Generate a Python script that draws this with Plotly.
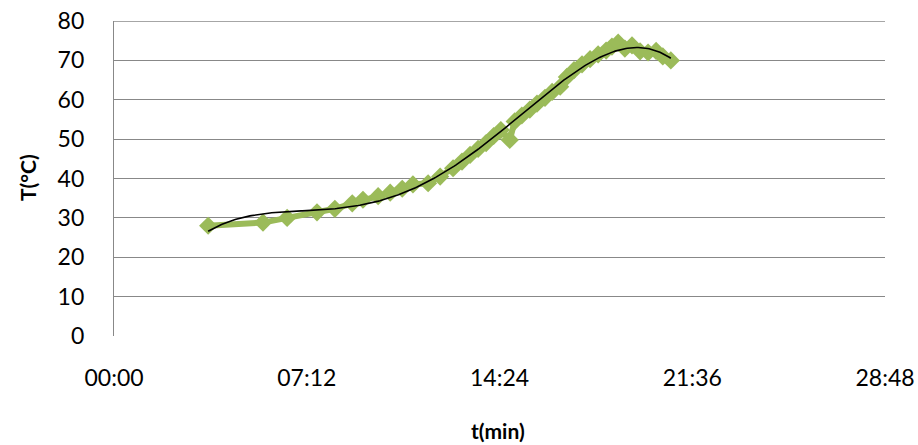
import numpy as np
import plotly.graph_objects as go

# time in seconds since start
t_sec = [211, 334, 388, 455, 495, 534, 558, 592, 619, 646, 670, 704, 731, 760,
         780, 798, 816, 834, 851, 867, 887, 898, 914, 932, 948, 966, 982, 1000,
         1015, 1031, 1049, 1067, 1085, 1103, 1116, 1130, 1145, 1161, 1179, 1197,
         1215, 1230, 1248]
temp_c = [28.0, 28.8, 30.0, 31.4, 32.3, 33.7, 34.6, 35.5, 36.4, 37.4, 38.5, 38.8, 40.5, 42.6,
          44.3, 46.0, 47.5, 49.0, 50.8, 52.3, 49.8, 54.5, 56.0, 57.5, 59.0, 60.5, 62.0, 63.3,
          65.8, 67.5, 69.0, 70.3, 71.5, 72.5, 73.5, 74.5, 73.0, 73.8, 72.3, 72.0,
          72.4, 71.0, 70.0]

x_tickvals = [0, 432, 864, 1296, 1728]
x_ticktext = ["00:00", "07:12", "14:24", "21:36", "28:48"]
y_tickvals = [0, 10, 20, 30, 40, 50, 60, 70, 80]
x_title = "t(min)"
y_title = "T(°C)"

# polynomial trendline (computed from the data)
poly = np.polynomial.Polynomial.fit(t_sec, temp_c, 4)
t_fit = np.linspace(min(t_sec), max(t_sec), 300)
T_fit = poly(t_fit)

FONT = "Lato"
GRID = "#888888"
W, H = 918, 445
L, R, T, B = 114, 33, 21, 109
PW, PH = W - L - R, H - T - B

fig = go.Figure()
fig.add_trace(go.Scatter(
    x=t_sec, y=temp_c, mode="lines+markers",
    line=dict(color="#9BBB59", width=6),
    marker=dict(symbol="diamond", size=14, color="#9BBB59"),
    showlegend=False, hoverinfo="x+y"))
fig.add_trace(go.Scatter(
    x=t_fit, y=T_fit, mode="lines",
    line=dict(color="#000000", width=1.6),
    showlegend=False, hoverinfo="skip"))

fig.update_layout(
    width=W, height=H,
    margin=dict(l=L, r=R, t=T, b=B),
    paper_bgcolor="white", plot_bgcolor="white",
    font=dict(family=FONT, size=23, color="#000000"),
    xaxis=dict(range=[0, 1728], tickvals=x_tickvals, ticktext=x_ticktext,
               showgrid=False, zeroline=False, showline=False,
               ticks="", ticklabelstandoff=26, automargin=False,
               ticklabeloverflow="allow"),
    yaxis=dict(range=[0, 80], tickvals=y_tickvals,
               showgrid=True, gridcolor=GRID, gridwidth=1.3,
               zeroline=False, showline=True, linecolor=GRID, linewidth=1.3,
               ticks="", ticklabelstandoff=24, automargin=False,
               ticklabeloverflow="allow"),
    shapes=[dict(type="line", xref="paper", yref="y", x0=0, x1=1,
                 y0=y_tickvals[-1], y1=y_tickvals[-1],
                 line=dict(color=GRID, width=1.3), layer="below")],
    annotations=[
        dict(text="<b>" + x_title + "</b>", xref="paper", yref="paper",
             x=(498 - L) / PW, y=-(430 - (H - B)) / PH,
             xanchor="center", yanchor="middle", showarrow=False,
             font=dict(size=21, family=FONT)),
        dict(text="<b>" + y_title + "</b>", xref="paper", yref="paper",
             x=-(L - 27) / PW, y=((H - B) - 178) / PH,
             xanchor="center", yanchor="middle", showarrow=False, textangle=-90,
             font=dict(size=21, family=FONT)),
    ],
)
fig.write_html("out.html", config={"displayModeBar": False},
               post_script="document.body.style.margin='0px';document.body.style.overflow='hidden';")
